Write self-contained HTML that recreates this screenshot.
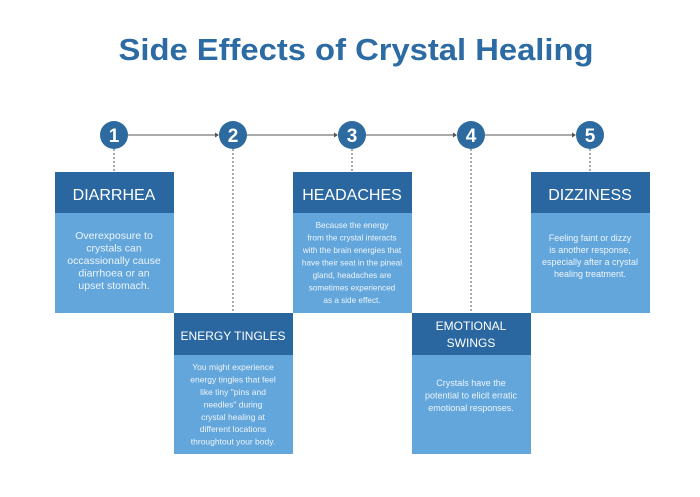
<!DOCTYPE html>
<html><head><meta charset="utf-8"><style>
body{margin:0;background:#fff;}
svg{display:block;font-family:"Liberation Sans",sans-serif;}
</style></head><body>
<svg width="700" height="497" viewBox="0 0 700 497">
<rect width="700" height="497" fill="#fff"/>
<text x="356" y="60" text-anchor="middle" font-size="31" font-weight="bold" fill="#2c6ba3" textLength="475" lengthAdjust="spacingAndGlyphs">Side Effects of Crystal Healing</text>
<g stroke="#555" stroke-width="1">
<line x1="128" y1="135" x2="216" y2="135"/><line x1="247" y1="135" x2="335" y2="135"/>
<line x1="366" y1="135" x2="454" y2="135"/><line x1="485" y1="135" x2="573" y2="135"/>
</g>
<g fill="#555">
<path d="M219 135l-4-2.5v5z"/><path d="M338 135l-4-2.5v5z"/><path d="M457 135l-4-2.5v5z"/><path d="M576 135l-4-2.5v5z"/>
</g>
<g stroke="#555" stroke-width="1" stroke-dasharray="2,2">
<line x1="114" y1="149" x2="114" y2="172"/><line x1="233" y1="149" x2="233" y2="313"/>
<line x1="352" y1="149" x2="352" y2="172"/><line x1="471" y1="149" x2="471" y2="313"/>
<line x1="590" y1="149" x2="590" y2="172"/>
</g>
<g fill="#2c6aa0">
<circle cx="114" cy="135" r="14"/><circle cx="233" cy="135" r="14"/><circle cx="352" cy="135" r="14"/><circle cx="471" cy="135" r="14"/><circle cx="590" cy="135" r="14"/>
</g>
<g fill="#fff" font-size="19" font-weight="bold" text-anchor="middle">
<text x="114" y="142">1</text><text x="233" y="142">2</text><text x="352" y="142">3</text><text x="471" y="142">4</text><text x="590" y="142">5</text>
</g>
<g fill="#62a6db">
<rect x="55" y="213" width="119" height="100"/><rect x="174" y="355" width="119" height="99"/>
<rect x="293" y="213" width="119" height="100"/><rect x="412" y="355" width="119" height="99"/>
<rect x="531" y="213" width="119" height="100"/>
</g>
<g fill="#2a67a0">
<rect x="55" y="172" width="119" height="41"/><rect x="174" y="313" width="119" height="42"/>
<rect x="293" y="172" width="119" height="41"/><rect x="412" y="313" width="119" height="42"/>
<rect x="531" y="172" width="119" height="41"/>
</g>
<g fill="#fff" text-anchor="middle">
<text x="114" y="200" font-size="16">DIARRHEA</text>
<text x="352" y="200" font-size="16">HEADACHES</text>
<text x="590" y="200" font-size="16">DIZZINESS</text>
<text x="233" y="340" font-size="12">ENERGY TINGLES</text>
<text x="471" y="330" font-size="12">EMOTIONAL</text>
<text x="471" y="347" font-size="12">SWINGS</text>
</g>
<g fill="#eef5fb" text-anchor="middle" font-size="10.5">
<text x="114" y="239">Overexposure to</text><text x="114" y="251.5">crystals can</text>
<text x="114" y="264">occassionally cause</text><text x="114" y="276.5">diarrhoea or an</text>
<text x="114" y="289">upset stomach.</text>
</g>
<g fill="#eef5fb" text-anchor="middle" font-size="8.2">
<text x="352" y="228">Because the energy</text><text x="352" y="240.5">from the crystal interacts</text>
<text x="352" y="253">with the brain energies that</text><text x="352" y="265.5">have their seat in the pineal</text>
<text x="352" y="278">gland, headaches are</text><text x="352" y="290.5">sometimes experienced</text>
<text x="352" y="303">as a side effect.</text>
</g>
<g fill="#eef5fb" text-anchor="middle" font-size="8.5">
<text x="233" y="370">You might experience</text><text x="233" y="382.5">energy tingles that feel</text>
<text x="233" y="395">like tiny "pins and</text><text x="233" y="407.5">needles" during</text>
<text x="233" y="420">crystal healing at</text><text x="233" y="432">different locations</text>
<text x="233" y="444.5">throughtout your body.</text>
</g>
<g fill="#eef5fb" text-anchor="middle" font-size="9">
<text x="471" y="386">Crystals have the</text><text x="471" y="398.5">potential to elicit erratic</text>
<text x="471" y="411">emotional responses.</text>
<text x="590" y="241">Feeling faint or dizzy</text><text x="590" y="253">is another response,</text>
<text x="590" y="265">especially after a crystal</text><text x="590" y="277">healing treatment.</text>
</g>
</svg>
</body></html>
